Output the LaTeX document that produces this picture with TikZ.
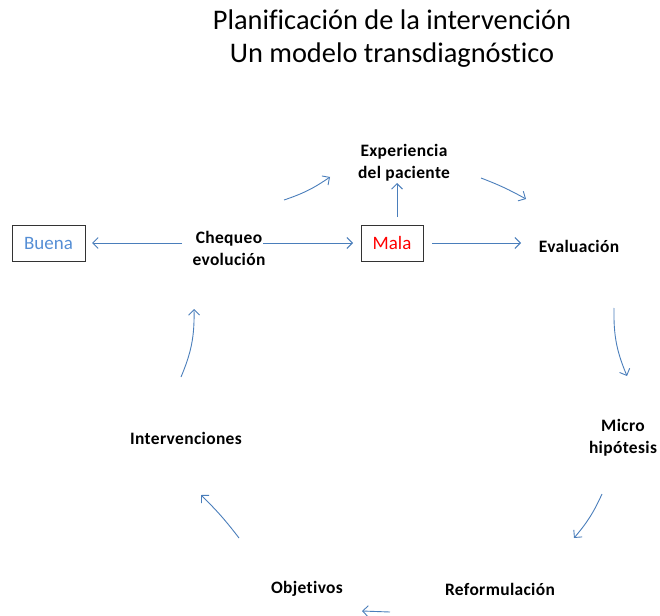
\documentclass[tikz,border=0pt]{standalone}
\usepackage{fontspec}
\setmainfont{Carlito}[Ligatures=NoCommon]
\usetikzlibrary{arrows.meta}
\definecolor{arrowblue}{HTML}{4A7EBB}
\definecolor{buenablue}{HTML}{558ED5}
\definecolor{malared}{HTML}{FF0000}
\tikzset{
  lbl/.style={font=\fontsize{17.5}{22}\selectfont\bfseries\addfontfeatures{LetterSpace=2}, align=center, inner sep=0pt},
  boxed/.style={draw=black!80, line width=0.9pt, minimum width=62bp, minimum height=36bp, inner sep=0pt, font=\fontsize{19}{22}\selectfont},
  conn/.style={draw=arrowblue, line width=0.9pt, -{Straight Barb[length=5.5pt,width=11pt]}},
}
\begin{document}
\begin{tikzpicture}[x=1bp,y=-1bp]
\useasboundingbox (0,0) rectangle (660,616);
\node[font=\fontsize{28.5}{33}\selectfont, align=center, inner sep=0pt] (title) at (392,39) {Planificación de la intervención\\Un modelo transdiagnóstico};

\node[lbl] (exp) at (404,163) {Experiencia\\del paciente};
\node[lbl] (cheq) at (229,248) {Chequeo\\evolución};
\node[boxed, minimum width=62bp, text=malared] (mala) at (392,243) {Mala};
\node[boxed, minimum width=73bp, text=buenablue] (buena) at (48.5,243) {Buena};
\node[lbl] (eval) at (579,246) {Evaluación};
\node[lbl] (micro) at (623,438) {Micro\\hipótesis};
\node[lbl] (refo) at (500,589) {Reformulación};
\node[lbl] (obj) at (307,589) {Objetivos};
\node[lbl] (interv) at (186,438) {Intervenciones};

\coordinate (a1s) at (284,200); \coordinate (a1e) at (330,177);
\coordinate (a2s) at (481,178); \coordinate (a2e) at (526,199);
\coordinate (a3s) at (614,308); \coordinate (a3e) at (627,376);
\coordinate (a4s) at (602,494); \coordinate (a4e) at (574,538);
\coordinate (a5s) at (390,612); \coordinate (a5e) at (362,611);
\coordinate (a6s) at (239,538); \coordinate (a6e) at (201,495);
\coordinate (a7s) at (181,377); \coordinate (a7e) at (194,309);
\coordinate (bs) at (182,243); \coordinate (be) at (92,243);
\coordinate (cs) at (263,243); \coordinate (ce) at (353,243);
\coordinate (ms) at (432,243); \coordinate (me) at (521,243);
\coordinate (us) at (397,217); \coordinate (ue) at (397,183);

\draw[conn] (a1s) to[bend right=8] (a1e);
\draw[conn] (a2s) to[bend left=4] (a2e);
\draw[conn] (a3s) to[bend right=12] (a3e);
\draw[conn] (a4s) to[bend left=8] (a4e);
\draw[conn] (a5s) -- (a5e);
\draw[conn] (a6s) to[bend right=4] (a6e);
\draw[conn] (a7s) to[bend right=12] (a7e);
\draw[conn] (bs) -- (be);
\draw[conn] (cs) -- (ce);
\draw[conn] (ms) -- (me);
\draw[conn] (us) -- (ue);
\end{tikzpicture}
\end{document}
